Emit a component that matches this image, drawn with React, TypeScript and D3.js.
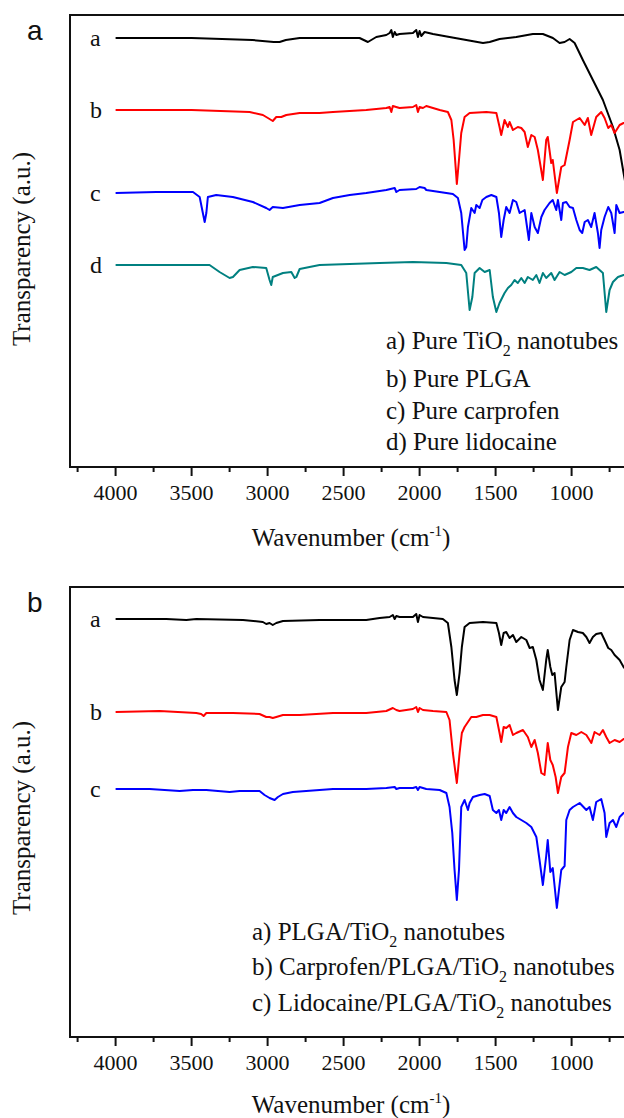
import React from 'react';
import * as d3 from 'd3';

type Pt = [number, number];

// ---------- Tick values ----------
const xMajorTicks = [4000, 3500, 3000, 2500, 2000, 1500, 1000, 500];
const xTickLabels = [4000, 3500, 3000, 2500, 2000, 1500, 1000];
const xMinorTicks = [4250, 3750, 3250, 2750, 2250, 1750, 1250, 750];

// ---------- Panel a data (wavenumber cm-1, transparency a.u.) ----------
const pureTiO2: Pt[] = [[4000,42.9],[3500,42.9],[3100,42.7],[2960,42.5],[2921,42.5],[2880,42.7],[2789,42.9],[2395,42.9],[2340,42.5],[2285,43.0],[2219,43.2],[2197,43.4],[2186,43.7],[2176,43.0],[2164,43.5],[2153,43.2],[2132,43.3],[2044,43.4],[2022,43.7],[2011,43.0],[2000,43.6],[1989,43.1],[1967,43.5],[1912,43.3],[1803,43.0],[1693,42.7],[1583,42.4],[1539,42.5],[1474,42.8],[1364,43.0],[1255,43.3],[1189,43.3],[1123,42.9],[1079,42.4],[1046,42.5],[1013,42.8],[980,42.4],[926,40.7],[860,38.7],[794,36.7],[728,34.0],[684,31.7],[658,29.4],[600,24.5]];

const purePLGA: Pt[] = [[4000,35.7],[3500,35.7],[3118,35.5],[3031,35.2],[2998,34.9],[2966,34.6],[2943,35.0],[2910,35.0],[2877,35.2],[2789,35.4],[2658,35.4],[2570,35.5],[2351,35.7],[2219,35.9],[2197,36.0],[2186,35.5],[2176,36.1],[2132,35.9],[2044,36.0],[2022,36.2],[2011,35.5],[2000,36.0],[1978,35.9],[1956,36.1],[1868,35.7],[1814,35.5],[1791,34.7],[1776,32.7],[1763,30.0],[1755,28.3],[1741,30.7],[1726,33.4],[1704,35.0],[1671,35.4],[1561,35.5],[1495,35.4],[1474,34.0],[1463,33.2],[1441,34.7],[1419,34.0],[1408,34.5],[1386,33.7],[1354,34.0],[1331,33.9],[1309,33.5],[1288,32.0],[1265,33.2],[1243,33.0],[1222,31.7],[1189,28.7],[1167,32.7],[1157,33.0],[1134,30.4],[1124,30.7],[1097,27.4],[1068,30.0],[1046,30.2],[1013,32.7],[991,34.5],[947,34.9],[914,34.2],[893,34.9],[871,33.2],[838,35.0],[805,35.5],[783,34.9],[759,33.9],[739,34.2],[717,33.4],[684,34.2],[658,34.4],[600,34.6]];

const pureCarprofen: Pt[] = [[4000,27.4],[3732,27.5],[3491,27.5],[3447,27.0],[3426,25.4],[3414,24.5],[3403,25.4],[3393,27.0],[3338,27.2],[3229,27.0],[3097,26.5],[3009,25.9],[2987,25.7],[2966,26.0],[2899,25.9],[2789,26.2],[2658,26.4],[2570,26.9],[2460,27.2],[2351,27.4],[2219,27.7],[2164,27.9],[2153,27.5],[2132,27.7],[2022,27.8],[2000,28.0],[1967,27.9],[1956,27.7],[1868,27.5],[1781,27.3],[1748,26.9],[1726,25.4],[1704,21.7],[1693,22.0],[1682,24.0],[1660,25.9],[1638,25.4],[1627,26.2],[1605,25.9],[1587,26.7],[1561,27.0],[1528,27.2],[1495,27.0],[1478,25.4],[1463,23.0],[1447,24.7],[1430,26.0],[1408,25.4],[1386,26.7],[1364,26.5],[1342,25.4],[1309,25.7],[1281,22.7],[1265,25.4],[1243,24.0],[1222,23.4],[1199,25.0],[1178,25.7],[1145,26.4],[1124,26.7],[1101,25.7],[1090,26.7],[1068,24.7],[1057,26.4],[1035,26.5],[1013,26.0],[991,25.9],[969,24.7],[947,23.7],[930,23.4],[914,24.5],[893,24.7],[871,24.0],[849,25.4],[827,23.4],[816,21.9],[805,23.7],[783,25.0],[759,26.0],[739,25.4],[717,23.4],[706,26.2],[684,25.4],[658,25.5],[600,25.5]];

const pureLidocaine: Pt[] = [[4000,20.2],[3382,20.2],[3316,19.5],[3250,18.9],[3228,19.0],[3184,19.7],[3097,20.0],[3009,19.9],[2987,18.7],[2976,18.2],[2966,19.0],[2899,19.4],[2844,19.5],[2822,18.9],[2811,19.0],[2789,19.8],[2724,20.0],[2658,20.2],[2263,20.4],[2044,20.5],[1824,20.4],[1726,20.2],[1693,19.4],[1671,15.7],[1653,17.0],[1638,19.4],[1605,19.9],[1572,19.5],[1539,19.7],[1518,17.0],[1495,15.5],[1474,16.4],[1441,17.4],[1419,17.9],[1397,18.2],[1375,18.7],[1354,18.4],[1331,18.9],[1309,18.4],[1288,19.0],[1255,18.7],[1232,19.2],[1211,18.4],[1189,19.4],[1167,18.9],[1134,19.4],[1112,18.7],[1079,19.5],[1046,19.2],[1002,19.5],[969,19.9],[926,19.9],[882,19.7],[838,20.0],[794,19.4],[772,15.5],[750,17.7],[728,18.5],[695,19.0],[658,19.2],[600,19.4]];

// ---------- Panel b data ----------
const plgaTiO2: Pt[] = [[4000,41.8],[3666,41.8],[3535,41.7],[3469,41.8],[3162,41.7],[3031,41.5],[3009,41.3],[2987,41.4],[2966,41.2],[2943,41.4],[2899,41.6],[2658,41.7],[2351,41.7],[2263,41.9],[2197,42.0],[2176,42.2],[2164,41.8],[2153,42.1],[2132,42.0],[2044,42.0],[2022,42.3],[2011,41.5],[2000,42.2],[1978,42.0],[1912,41.9],[1847,41.8],[1814,41.4],[1791,39.0],[1770,35.7],[1755,34.2],[1737,36.4],[1722,39.0],[1704,41.0],[1671,41.4],[1583,41.5],[1495,41.4],[1478,40.4],[1463,39.2],[1447,40.4],[1430,40.5],[1408,39.9],[1386,40.2],[1364,39.5],[1331,40.0],[1298,39.7],[1276,38.9],[1255,39.0],[1232,37.7],[1211,35.7],[1189,34.7],[1167,37.7],[1157,38.7],[1140,37.0],[1127,36.2],[1112,36.4],[1090,32.7],[1068,35.0],[1046,35.5],[1035,37.0],[1013,39.7],[991,40.7],[958,40.5],[926,40.4],[903,40.0],[882,39.4],[860,40.0],[838,40.3],[805,40.4],[783,39.7],[759,38.9],[739,38.7],[717,38.2],[684,37.7],[658,37.0],[600,36.0]];

const carprofenPLGATiO2: Pt[] = [[4000,32.5],[3711,32.6],[3469,32.4],[3437,32.3],[3421,32.1],[3403,32.4],[3229,32.4],[3053,32.3],[3009,32.0],[2987,32.0],[2966,31.9],[2943,32.0],[2899,32.2],[2789,32.2],[2570,32.4],[2351,32.4],[2219,32.6],[2176,32.9],[2153,32.7],[2132,32.6],[2044,32.8],[2022,33.0],[2011,32.5],[2000,32.9],[1978,32.7],[1912,32.6],[1824,32.5],[1803,31.7],[1781,28.4],[1755,25.4],[1737,28.4],[1722,30.4],[1704,31.0],[1682,31.5],[1660,32.0],[1627,32.0],[1583,32.2],[1539,32.2],[1495,32.0],[1474,30.4],[1463,29.5],[1447,31.0],[1430,30.9],[1408,31.2],[1386,30.2],[1364,30.4],[1320,30.7],[1288,30.0],[1265,29.0],[1243,29.7],[1222,28.4],[1199,26.4],[1178,26.2],[1157,29.4],[1140,27.7],[1124,27.2],[1105,26.0],[1090,24.4],[1068,26.0],[1046,26.4],[1024,29.0],[1002,30.4],[969,30.2],[936,30.5],[903,30.2],[870,29.4],[849,30.5],[816,30.2],[794,30.7],[772,30.0],[750,29.4],[717,29.7],[684,29.5],[658,29.8],[600,30.0]];

const lidocainePLGATiO2: Pt[] = [[4000,24.8],[3776,24.8],[3579,24.6],[3491,24.7],[3403,24.7],[3250,24.5],[3184,24.6],[3053,24.6],[3020,24.2],[2987,23.9],[2954,23.7],[2932,24.0],[2899,24.3],[2834,24.5],[2658,24.7],[2570,24.8],[2351,24.8],[2219,24.9],[2164,25.0],[2153,24.8],[2132,24.9],[2044,24.9],[2022,25.0],[2011,24.7],[2000,25.0],[1956,24.8],[1868,24.7],[1824,24.4],[1803,23.0],[1785,20.4],[1770,16.7],[1755,13.7],[1741,16.7],[1726,23.0],[1704,23.7],[1682,22.7],[1671,23.4],[1649,24.0],[1605,24.2],[1572,24.3],[1539,24.1],[1518,22.7],[1495,22.4],[1478,22.7],[1463,21.7],[1447,22.7],[1430,22.4],[1408,23.0],[1386,22.4],[1364,22.0],[1331,21.7],[1298,21.4],[1265,21.0],[1232,20.0],[1211,17.7],[1189,15.2],[1167,18.1],[1157,19.7],[1140,16.5],[1124,16.9],[1097,12.9],[1068,16.7],[1046,17.1],[1035,21.7],[1013,22.7],[991,23.0],[947,23.4],[903,22.7],[882,23.0],[860,21.7],[838,23.5],[805,23.8],[783,22.4],[772,20.0],[750,21.4],[728,21.7],[706,21.0],[684,22.0],[658,22.4],[600,22.6]];

// ---------- Labels ----------
const seriesLettersA = ['a', 'b', 'c', 'd'];
const seriesLettersB = ['a', 'b', 'c'];
const legendA = ['a) Pure TiO_2 nanotubes', 'b) Pure PLGA', 'c) Pure carprofen', 'd) Pure lidocaine'];
const legendB = ['a) PLGA/TiO_2 nanotubes', 'b) Carprofen/PLGA/TiO_2 nanotubes', 'c) Lidocaine/PLGA/TiO_2 nanotubes'];
const colorsA = ['#000000', '#ff0000', '#0000ff', '#008080'];
const colorsB = ['#000000', '#ff0000', '#0000ff'];

const SERIF = "'Liberation Serif', 'Times New Roman', serif";
const SANS = "'Liberation Sans', Arial, sans-serif";

interface PanelProps {
  tag: string;
  top: number;
  bottom: number;
  yMax: number;
  series: Pt[][];
  colors: string[];
  letters: string[];
  legend: string[];
  legendX: number;
  legendY: number[];
  yTitleCenter: number;
  xTitleY: number;
}

function LegendText({ text, x, y }: { text: string; x: number; y: number }) {
  const parts = text.split('_2');
  return (
    <text x={x} y={y} fontFamily={SERIF} fontSize={25} fill="#111">
      {parts.length === 1 ? (
        parts[0]
      ) : (
        <>
          {parts[0]}
          <tspan dy={7} fontSize={16}>2</tspan>
          <tspan dy={-7}>{parts[1]}</tspan>
        </>
      )}
    </text>
  );
}

function Panel(p: PanelProps) {
  const left = 70;
  const x = d3.scaleLinear().domain([4300, 400]).range([left, 662.8]);
  const y = d3.scaleLinear().domain([0, p.yMax]).range([p.bottom, p.top]);
  const line = d3
    .line<Pt>()
    .x((d) => x(d[0]))
    .y((d) => y(d[1]));

  return (
    <g>
      <text x={27} y={p.top + 25} fontFamily={SANS} fontSize={28} fill="#111">
        {p.tag}
      </text>
      <rect
        x={left}
        y={p.top}
        width={x(400) - left}
        height={p.bottom - p.top}
        fill="none"
        stroke="#111"
        strokeWidth={2}
      />
      {xMajorTicks.map((t) => (
        <line key={'M' + t} x1={x(t)} x2={x(t)} y1={p.bottom} y2={p.bottom + 9} stroke="#111" strokeWidth={2} />
      ))}
      {xTickLabels.map((t) => (
        <text
          key={'L' + t}
          x={x(t)}
          y={p.bottom + 33}
          textAnchor="middle"
          fontFamily={SERIF}
          fontSize={22}
          fill="#111"
        >
          {t}
        </text>
      ))}
      {xMinorTicks.map((t) => (
        <line key={'m' + t} x1={x(t)} x2={x(t)} y1={p.bottom} y2={p.bottom + 5} stroke="#111" strokeWidth={2} />
      ))}
      {p.series.map((s, i) => (
        <path
          key={i}
          d={line(s) || ''}
          fill="none"
          stroke={p.colors[i]}
          strokeWidth={2}
          strokeLinejoin="round"
        />
      ))}
      {p.series.map((s, i) => (
        <text key={'l' + i} x={90} y={y(s[0][1]) + 8} fontFamily={SERIF} fontSize={24} fill="#111">
          {p.letters[i]}
        </text>
      ))}
      {p.legend.map((t, i) => (
        <LegendText key={'g' + i} text={t} x={p.legendX} y={p.legendY[i]} />
      ))}
      <text
        x={351}
        y={p.xTitleY}
        textAnchor="middle"
        fontFamily={SERIF}
        fontSize={25}
        fill="#111"
      >
        Wavenumber (cm
        <tspan dy={-10} fontSize={15}>-1</tspan>
        <tspan dy={10}>)</tspan>
      </text>
      <text
        transform={`translate(30, ${p.yTitleCenter}) rotate(-90)`}
        textAnchor="middle"
        fontFamily={SERIF}
        fontSize={25}
        fill="#111"
      >
        Transparency (a.u.)
      </text>
    </g>
  );
}

export default function App() {
  return (
    <svg
      width={624}
      height={1118}
      style={{ position: 'absolute', left: 0, top: 0, background: '#fff' }}
    >
      <rect x={0} y={0} width={624} height={1118} fill="#fff" />
      <Panel
        tag="a"
        top={15}
        bottom={467}
        yMax={45.2}
        series={[pureTiO2, purePLGA, pureCarprofen, pureLidocaine]}
        colors={colorsA}
        letters={seriesLettersA}
        legend={legendA}
        legendX={386}
        legendY={[349, 387, 419, 450]}
        yTitleCenter={249}
        xTitleY={546}
      />
      <Panel
        tag="b"
        top={587}
        bottom={1037}
        yMax={45}
        series={[plgaTiO2, carprofenPLGATiO2, lidocainePLGATiO2]}
        colors={colorsB}
        letters={seriesLettersB}
        legend={legendB}
        legendX={252}
        legendY={[940, 975, 1011]}
        yTitleCenter={818}
        xTitleY={1113}
      />
    </svg>
  );
}
